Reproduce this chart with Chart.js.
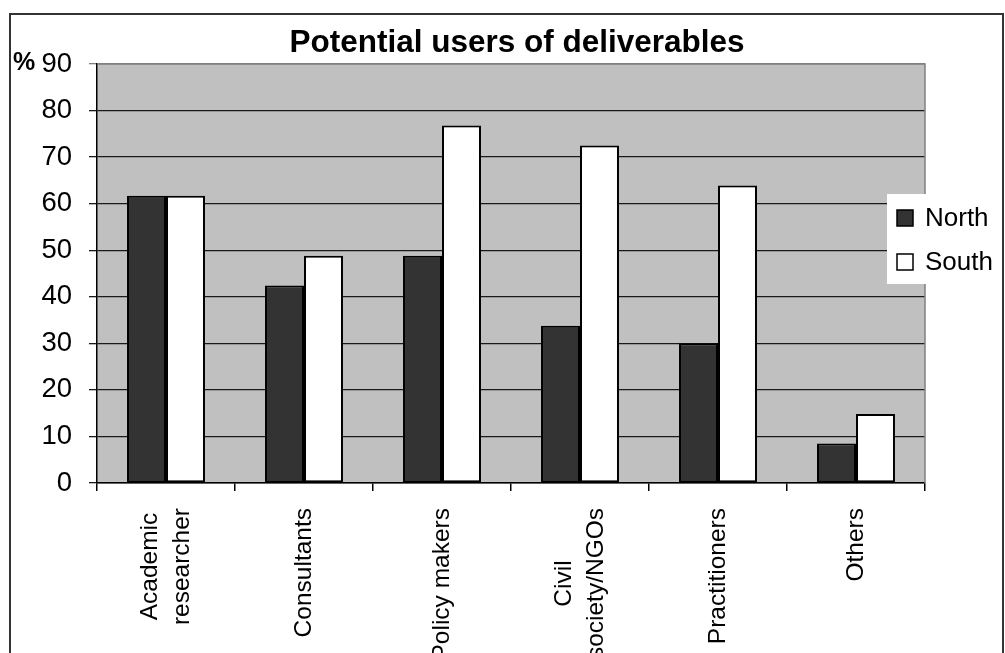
<!DOCTYPE html>
<html>
<head>
<meta charset="utf-8">
<title>Potential users of deliverables</title>
<script src="https://cdn.jsdelivr.net/npm/chart.js@4.4.1/dist/chart.umd.min.js"></script>
<style>
  html, body { margin: 0; padding: 0; background: #fff; }
  canvas { display: block; }
</style>
</head>
<body>
<canvas id="usersChart" width="1005" height="653"></canvas>
<script>
const chartTitle = 'Potential users of deliverables';
const yAxisLabel = '%';
const categories = [['Academic', 'researcher'], 'Consultants', 'Policy makers', ['Civil', 'society/NGOs'], 'Practitioners', 'Others'];
const seriesNames = ['North', 'South'];
const northValues = [61.7, 42.4, 48.8, 33.8, 30.0, 8.5];
const southValues = [61.7, 48.8, 76.8, 72.5, 63.9, 14.8];
const yMin = 0;
const yMax = 90;
const yStep = 10;

const colors = Object.freeze({
    PLOT_BG: '#C0C0C0',
    NORTH: '#333333',
    SOUTH: '#FFFFFF',
    GRID: '#1a1a1a',
    EDGE: '#808080',
    FRAME: '#333333',
});

const FONT = "'Liberation Sans', Arial, sans-serif";

// gray fill behind the grid
const plotBackground = {
    id: 'plotBackground',
    beforeDraw(chart) {
        const { ctx, chartArea: a } = chart;
        ctx.save();
        ctx.fillStyle = colors.PLOT_BG;
        ctx.fillRect(a.left, a.top, a.right - a.left, a.bottom - a.top);
        ctx.restore();
    }
};

// top and right edges of the plot are a lighter line
const plotEdges = {
    id: 'plotEdges',
    afterDatasetsDraw(chart) {
        const { ctx, chartArea: a } = chart;
        ctx.save();
        ctx.strokeStyle = colors.EDGE;
        ctx.lineWidth = 1.5;
        ctx.beginPath();
        ctx.moveTo(a.left, a.top);
        ctx.lineTo(a.right, a.top);
        ctx.lineTo(a.right, a.bottom);
        ctx.stroke();
        ctx.restore();
    }
};

// title, axis unit, rotated category labels, legend and outer frame
const decorations = {
    id: 'decorations',
    afterDraw(chart) {
        const { ctx } = chart;
        const xScale = chart.scales.x;
        ctx.save();

        ctx.strokeStyle = colors.FRAME;
        ctx.lineWidth = 2;
        ctx.strokeRect(10, 14, 993, 700);

        ctx.fillStyle = '#000';
        ctx.textBaseline = 'middle';
        ctx.textAlign = 'center';
        ctx.font = `bold 31.5px ${FONT}`;
        ctx.fillText(chartTitle, 517, 43);

        ctx.textAlign = 'left';
        ctx.font = `bold 25px ${FONT}`;
        ctx.fillText(yAxisLabel, 13, 63);

        // category labels, reading bottom to top, lines centred on each other
        ctx.font = `24.5px ${FONT}`;
        const labelTop = 508;
        const lineGap = 32;
        categories.forEach((cat, i) => {
            const lines = Array.isArray(cat) ? cat : [cat];
            const widest = Math.max(...lines.map(l => ctx.measureText(l).width));
            const cx = xScale.getPixelForTick(i);
            lines.forEach((line, j) => {
                ctx.save();
                ctx.translate(cx + (j - (lines.length - 1) / 2) * lineGap, labelTop + widest / 2);
                ctx.rotate(-Math.PI / 2);
                ctx.textAlign = 'center';
                ctx.fillText(line, 0, 0);
                ctx.restore();
            });
        });

        // legend box
        ctx.fillStyle = '#fff';
        ctx.fillRect(887, 194, 113, 90);
        ctx.font = `26px ${FONT}`;
        ctx.textAlign = 'left';
        chart.data.datasets.forEach((ds, i) => {
            const rowY = 218 + i * 44;
            ctx.fillStyle = ds.backgroundColor;
            ctx.fillRect(897, rowY - 8, 16, 16);
            ctx.strokeStyle = '#000';
            ctx.lineWidth = 1.5;
            ctx.strokeRect(897, rowY - 8, 16, 16);
            ctx.fillStyle = '#000';
            ctx.fillText(ds.label, 925, rowY + 1);
        });

        ctx.restore();
    }
};

new Chart(document.getElementById('usersChart'), {
    type: 'bar',
    data: {
        labels: categories,
        datasets: [{
            label: seriesNames[0],
            data: northValues,
            backgroundColor: colors.NORTH,
            borderColor: '#000',
            borderWidth: 2,
            borderSkipped: false,
            barPercentage: 1,
            categoryPercentage: 0.565,
        }, {
            label: seriesNames[1],
            data: southValues,
            backgroundColor: colors.SOUTH,
            borderColor: '#000',
            borderWidth: 2,
            borderSkipped: false,
            barPercentage: 1,
            categoryPercentage: 0.565,
        }]
    },
    options: {
        responsive: false,
        animation: false,
        layout: {
            padding: { top: 64, right: 80, left: 0, bottom: 0 }
        },
        plugins: {
            legend: { display: false },
            title: { display: false },
            tooltip: { enabled: false },
        },
        scales: {
            x: {
                afterFit(scale) { scale.height = 170; },
                ticks: { display: false },
                grid: {
                    offset: true,
                    drawOnChartArea: false,
                    drawTicks: true,
                    tickLength: 8,
                    color: '#000',
                    lineWidth: 1.5,
                },
                border: { color: '#000', width: 1.5 },
            },
            y: {
                min: yMin,
                max: yMax,
                afterFit(scale) { scale.width = 97; },
                ticks: {
                    stepSize: yStep,
                    padding: 17,
                    color: '#000',
                    font: { family: FONT, size: 27.5 },
                },
                grid: {
                    tickLength: 8,
                    lineWidth: 1.3,
                    color: ctx => ctx.tick && ctx.tick.value === yMax ? colors.EDGE : colors.GRID,
                },
                border: { color: '#000', width: 1.5 },
            }
        }
    },
    plugins: [plotBackground, plotEdges, decorations]
});
</script>
</body>
</html>
